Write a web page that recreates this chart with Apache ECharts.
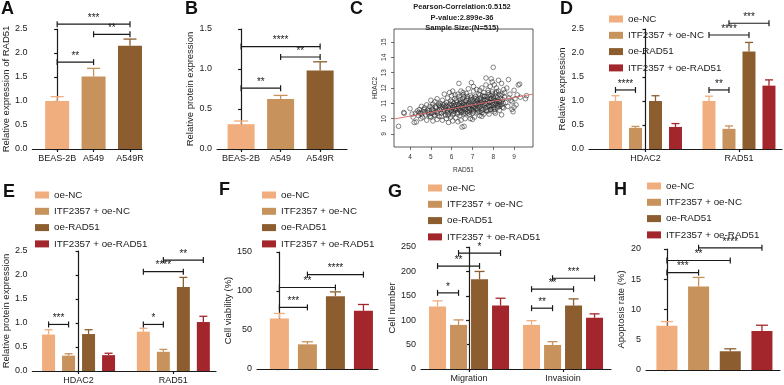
<!DOCTYPE html>
<html><head><meta charset="utf-8">
<script src="https://cdn.jsdelivr.net/npm/echarts@6/dist/echarts.min.js"></script>
<style>html,body{margin:0;padding:0;background:#fff}#c{width:784px;height:385px}</style>
</head><body><div id="c"></div>
<script>
// ---------------- DATA ----------------
const groupNames = ['oe-NC', 'ITF2357 + oe-NC', 'oe-RAD51', 'ITF2357 + oe-RAD51'];

// A
const aCats = ['BEAS-2B', 'A549', 'A549R'];
const aMean = [1.0, 1.51, 2.15];
const aUpper = [1.09, 1.68, 2.29];
const aSig = [[0, 1, 1.81, '**'], [1, 2, 2.39, '**'], [0, 2, 2.6, '***']];

// B
const bCats = ['BEAS-2B', 'A549', 'A549R'];
const bMean = [0.31, 0.625, 0.98];
const bUpper = [0.35, 0.67, 1.09];
const bSig = [[0, 1, 0.76, '**'], [1, 2, 1.15, '**'], [0, 2, 1.28, '****']];

// C (scatter: RAD51 vs HDAC2)
const cTitle = ['Pearson-Correlation:0.5152', 'P-value:2.899e-36', 'Sample Size:(N=515)'];
const cXTicks = [4, 5, 6, 7, 8, 9];
const cYTicks = [9, 10, 11, 12, 13, 14, 15];
const cFitLine = [[3.23, 9.98], [9.91, 11.6]];
const cPoints = [
[3.45,9.5],[3.7,10.4],[3.72,10.35],[4.0,10.65],[4.1,10.3],[4.15,10.1],[4.2,9.75],[4.3,9.78],[4.35,10.5],[4.4,10.2],
[4.45,10.6],[4.5,10.35],[4.55,10.8],[4.6,10.1],[4.62,10.45],[4.7,10.7],[4.75,10.25],[4.8,10.9],[4.8,9.9],[4.85,10.55],
[4.9,10.3],[4.95,10.8],[5.0,11.2],[5.0,10.1],[5.05,10.6],[5.1,9.85],[5.1,10.95],[5.15,10.4],[5.2,11.1],[5.2,10.2],
[5.25,10.7],[5.3,9.95],[5.3,11.3],[5.35,10.5],[5.4,10.85],[5.4,10.15],[5.45,11.0],[5.5,10.35],[5.5,10.65],[5.55,11.2],[5.55,9.9],
[5.6,10.45],[5.6,10.9],[5.65,11.6],[5.7,10.25],[5.7,10.75],[5.75,11.05],[5.75,10.0],[5.8,10.55],[5.8,11.35],[5.85,10.8],
[5.85,10.3],[5.9,11.7],[5.9,10.6],[5.95,10.1],[5.95,11.15],[6.0,10.45],[6.0,10.9],[6.0,11.5],[6.05,10.7],[6.05,9.85],
[6.1,11.0],[6.1,10.35],[6.15,10.8],[6.15,11.3],[6.2,10.55],[6.2,10.05],[6.25,11.1],[6.25,10.65],[6.3,11.6],[6.3,10.4],
[6.35,10.9],[6.35,12.3],[6.4,10.2],[6.4,11.25],[6.45,10.75],[6.45,11.8],[6.5,10.5],[6.5,11.05],[6.5,9.45],[6.55,10.95],
[6.55,10.3],[6.6,11.4],[6.6,9.5],[6.6,10.65],[6.65,11.15],[6.65,10.0],[6.7,10.85],[6.7,11.65],[6.75,10.45],[6.75,11.3],
[6.8,10.7],[6.8,11.95],[6.85,10.25],[6.85,11.1],[6.9,10.9],[6.9,11.5],[6.95,12.35],[6.95,10.6],[7.0,11.2],[7.0,10.35],
[7.05,11.8],[7.05,10.8],[7.1,11.0],[7.1,10.1],[7.15,11.45],[7.15,10.65],[7.2,11.9],[7.2,10.95],[7.25,10.4],[7.25,11.25],
[7.3,10.75],[7.3,11.6],[7.35,11.05],[7.35,10.2],[7.4,11.35],[7.4,10.85],[7.45,12.0],[7.45,10.55],[7.5,11.15],[7.5,10.9],
[7.55,11.7],[7.55,10.3],[7.6,11.0],[7.6,11.45],[7.65,10.7],[7.65,12.65],[7.7,11.25],[7.7,10.95],[7.75,11.85],[7.75,10.5],
[7.8,11.1],[7.8,11.55],[7.85,10.8],[7.85,12.1],[7.9,11.3],[7.9,12.6],[7.9,10.6],[7.95,11.05],[7.95,11.75],[8.0,13.35],
[8.0,10.9],[8.0,11.4],[8.05,12.2],[8.05,10.45],[8.1,11.2],[8.1,11.65],[8.15,10.95],[8.15,12.0],[8.2,11.35],[8.2,10.7],
[8.25,11.8],[8.3,11.1],[8.3,10.55],[8.35,11.5],[8.4,12.3],[8.4,10.9],[8.45,11.25],[8.5,10.7],[8.5,11.9],[8.55,11.4],
[8.6,11.05],[8.65,12.0],[8.7,10.8],[8.73,12.55],[8.8,11.6],[8.85,11.2],[8.9,10.6],[8.95,10.45],[9.0,11.85],[9.05,11.3],
[9.1,10.9],[9.2,12.2],[9.27,12.25],[9.3,11.4],[9.55,11.3],[9.6,11.5],
[5.62,10.6],[5.68,10.95],[5.78,10.4],[5.88,10.7],[5.98,10.55],[6.02,11.1],[6.08,10.5],[6.12,10.85],[6.18,10.65],[6.22,11.2],
[6.28,10.3],[6.32,10.75],[6.38,11.0],[6.42,10.55],[6.48,10.85],[6.52,11.3],[6.58,10.45],[6.62,10.9],[6.68,10.6],[6.72,11.2],
[6.78,10.35],[6.82,10.95],[6.88,10.65],[6.92,11.25],[6.98,10.85],[7.02,10.55],[7.08,11.35],[7.12,10.75],[7.18,11.1],[7.22,10.6],
[7.28,11.0],[7.32,10.45],[7.38,11.2],[7.42,10.7],[7.48,11.5],[7.52,10.6],[7.58,10.85],[7.62,11.2],[7.68,10.5],[7.72,11.4],
[7.78,10.85],[7.82,11.05],[7.88,11.5],[7.92,10.85],[7.98,11.2],[8.02,10.7],[8.08,11.0],[8.12,11.45],[8.18,10.85],[8.22,11.15],
[8.28,11.6],[8.32,10.9],[8.38,11.1],[8.42,11.6],[8.48,11.0],[5.12,10.55],[5.22,10.8],[5.32,10.35],[5.42,10.6],[5.52,10.15],
[5.58,10.75],[4.92,10.5],[5.02,10.35],[4.72,10.45],[4.52,10.0],[4.42,10.4],[6.05,11.8],[6.55,11.7],[7.05,12.1],[7.35,11.85],
[7.65,12.2],[7.95,12.4],[8.25,12.5],[8.55,11.7],[8.75,11.35],[8.9,11.1],[9.0,10.75],[9.15,11.55],[6.45,9.9],[6.9,10.0],
[7.45,10.15],[7.8,10.3],[8.1,10.35],[8.4,10.25],[5.85,9.75],[6.3,9.8],[7.0,9.95],
[5.66,10.5],[5.74,10.85],[5.82,10.2],[5.92,10.95],[6.04,10.25],[6.14,10.6],[6.24,10.9],[6.34,10.6],[6.44,11.1],[6.54,10.7],
[6.64,10.35],[6.74,10.95],[6.84,10.55],[6.94,11.05],[7.04,10.7],[7.14,10.9],[7.24,11.15],[7.34,10.9],[7.44,11.05],[7.54,11.25],
[7.64,10.95],[7.74,11.15],[7.84,11.3],[7.94,10.7],[8.04,11.3],[8.14,11.1],[8.24,10.95],[8.34,11.3],[8.44,10.75],[6.16,11.55],
[6.36,11.45],[6.56,11.55],[6.76,11.45],[6.96,11.4],[7.16,11.3],[7.36,11.55],[7.56,11.45],[7.76,11.7],[7.96,11.6],[8.16,11.75],
[5.46,10.8],[5.36,10.95],[5.26,10.45],[5.16,10.25],[5.06,10.75],[4.96,10.15],[4.86,10.4],[4.66,10.6],[4.56,10.3],[4.26,10.35],
[6.46,10.4],[6.66,10.8],[6.86,10.45],[7.06,10.45],[7.26,10.55],[7.46,10.4],[7.66,10.55],[7.86,10.6],[8.06,10.6],[8.26,10.8]
];

// D  (rows = group member, columns = category)
const dCats = ['HDAC2', 'RAD51'];
const dMean = [[1.0, 1.0], [0.44, 0.42], [1.0, 2.03], [0.46, 1.32]];
const dUpper = [[1.11, 1.1], [0.47, 0.48], [1.11, 2.22], [0.53, 1.44]];
const dSig = [[0, 0, 0, 1, 1.23, '****'], [1, 0, 1, 1, 1.23, '**'], [1, 0, 1, 2, 2.375, '****'], [1, 1, 1, 3, 2.62, '***']];

// E
const eCats = ['HDAC2', 'RAD51'];
const eMean = [[0.76, 0.82], [0.32, 0.40], [0.77, 1.75], [0.33, 1.02]];
const eUpper = [[0.86, 0.89], [0.36, 0.45], [0.86, 1.95], [0.37, 1.14]];
const eSig = [[0, 0, 0, 1, 0.97, '***'], [1, 0, 1, 1, 0.97, '*'], [1, 0, 1, 2, 2.07, '****'], [1, 1, 1, 3, 2.31, '**']];

// F
const fMean = [64.8, 31.6, 93.3, 74.6];
const fUpper = [71.2, 34.9, 98.9, 82.7];
const fSig = [[0, 1, 79, '***'], [0, 2, 104.5, '**'], [1, 3, 121, '****']];

// G
const gCats = ['Migration', 'Invasioin'];
const gMean = [[128, 90.4], [90.4, 49.3], [184, 130], [130, 105]];
const gUpper = [[139.6, 99], [100.6, 56], [199.9, 143.7], [145, 113]];
const gSig = [[0, 0, 0, 1, 156, '*'], [0, 0, 0, 2, 211, '**'], [0, 1, 0, 3, 237.6, '*'],
              [1, 0, 1, 1, 124.6, '**'], [1, 0, 1, 2, 163.6, '**'], [1, 1, 1, 3, 186, '***']];

// H
const hMean = [7.3, 13.8, 3.1, 6.45];
const hUpper = [8.0, 15.3, 3.5, 7.4];
const hSig = [[0, 1, 16.1, '***'], [0, 2, 18.1, '**'], [1, 3, 20.2, '****']];

// ---------------- STYLE / LAYOUT ----------------
const FONT = '"Liberation Sans", Arial, Helvetica, sans-serif';
const INK = '#1a1a1a';
const PALETTE = ['#F0AD7E', '#C8925C', '#8C5D2E', '#A2262C'];

const chart = echarts.init(document.getElementById('c'), null, {renderer: 'canvas'});

const grids = [
  {left: 32, top: 29, width: 110, height: 120},   // A
  {left: 217, top: 29, width: 130, height: 120},  // B
  {left: 394, top: 29, width: 139, height: 118, show: true, borderColor: '#333', borderWidth: 0.8}, // C
  {left: 589, top: 29, width: 193, height: 120},  // D
  {left: 32, top: 251, width: 184, height: 120},  // E
  {left: 257, top: 252, width: 121, height: 117}, // F
  {left: 421, top: 247, width: 190, height: 122}, // G
  {left: 646, top: 249, width: 134, height: 121}  // H
];

const axisLineStyle = {color: INK, width: 1.2};
function xCat(gi, min, max, cats) {
  const vals = cats ? cats.map((c, i) => i) : [];
  return {
    type: 'value', gridIndex: gi, min, max,
    axisLine: {show: true, onZero: false, lineStyle: axisLineStyle},
    axisTick: {show: !!cats, customValues: vals, length: 3, lineStyle: axisLineStyle},
    axisLabel: {show: !!cats, customValues: vals, formatter: v => cats ? cats[Math.round(v)] : '',
      fontSize: 9, color: INK, fontFamily: FONT, margin: 5},
    splitLine: {show: false}
  };
}
function yVal(gi, max, interval, dec, name, gap) {
  return {
    type: 'value', gridIndex: gi, min: 0, max, interval,
    name, nameLocation: 'middle', nameGap: gap,
    nameTextStyle: {fontSize: 9.5, color: INK, fontFamily: FONT},
    axisLine: {show: true, lineStyle: axisLineStyle},
    axisTick: {show: true, length: 3, lineStyle: axisLineStyle},
    axisLabel: {formatter: v => v.toFixed(dec), fontSize: 9, color: INK, fontFamily: FONT, margin: 5},
    splitLine: {show: false}
  };
}

const xAxes = [
  xCat(0, -0.68, 2.33, aCats),
  xCat(1, -0.61, 2.68, bCats),
  {type: 'value', gridIndex: 2, min: 3.23, max: 9.91, name: 'RAD51', nameLocation: 'middle', nameGap: 20,
   nameTextStyle: {fontSize: 6.5, color: '#333', fontFamily: FONT},
   axisLine: {show: false}, axisTick: {show: true, customValues: cXTicks, length: 3, lineStyle: {color: '#333', width: 0.7}},
   axisLabel: {customValues: cXTicks, fontSize: 6.5, color: '#333', fontFamily: FONT, margin: 7}, splitLine: {show: false}},
  xCat(3, -0.604, 1.46, dCats),
  xCat(4, -0.487, 1.45, eCats),
  xCat(5, -0.8, 3.52, null),
  xCat(6, -0.511, 1.51, gCats),
  xCat(7, -0.66, 3.57, null)
];
const yAxes = [
  yVal(0, 2.5, 0.5, 1, 'Relative expression of RAD51', 19),
  yVal(1, 1.5, 0.5, 1, 'Relative protein expression', 20),
  {type: 'value', gridIndex: 2, min: 8.15, max: 15.85, name: 'HDAC2', nameLocation: 'middle', nameGap: 15,
   nameTextStyle: {fontSize: 6.5, color: '#333', fontFamily: FONT},
   axisLine: {show: false}, axisTick: {show: true, customValues: cYTicks, length: 3, lineStyle: {color: '#333', width: 0.7}},
   axisLabel: {customValues: cYTicks, rotate: 90, fontSize: 6.5, color: '#333', fontFamily: FONT, margin: 6}, splitLine: {show: false}},
  yVal(3, 2.5, 0.5, 1, 'Relative expression', 20),
  yVal(4, 2.5, 0.5, 1, 'Relative protein expression', 19),
  yVal(5, 150, 50, 0, 'Cell viability (%)', 21),
  yVal(6, 250, 50, 0, 'Cell number', 21),
  yVal(7, 20, 5, 0, 'Apoptosis rate (%)', 20)
];

const series = [];

function singleBars(gi, mean, bw) {
  series.push({type: 'bar', xAxisIndex: gi, yAxisIndex: gi, barWidth: bw, silent: true,
    data: mean.map((v, i) => ({value: [i, v], itemStyle: {color: PALETTE[i]}}))});
}
function namedSingleBars(gi, mean, bw) {
  mean.forEach((v, m) => series.push({type: 'bar', name: groupNames[m], xAxisIndex: gi, yAxisIndex: gi,
    barWidth: bw, barGap: '-100%', silent: true, itemStyle: {color: PALETTE[m]}, data: [[m, v]]}));
}
function groupedBars(gi, cats, mean, bw, gapPct) {
  mean.forEach((row, m) => series.push({type: 'bar', name: groupNames[m], xAxisIndex: gi, yAxisIndex: gi,
    barWidth: bw, barGap: gapPct, silent: true, itemStyle: {color: PALETTE[m]},
    data: cats.map((c, g) => [g, row[g]])}));
}
function errorBars(gi, items, offset, capW) {
  series.push({type: 'custom', xAxisIndex: gi, yAxisIndex: gi, silent: true, z: 3,
    encode: {x: 0, y: 3}, data: items,
    renderItem: (p, api) => {
      const x0 = api.value(0), m = api.value(1);
      const a = api.coord([x0, api.value(2)]), b = api.coord([x0, api.value(3)]);
      const x = a[0] + offset(m);
      const col = PALETTE[api.value(4)];
      return {type: 'group', children: [
        {type: 'line', shape: {x1: x, y1: a[1], x2: x, y2: b[1]}, style: {stroke: col, lineWidth: 1.3}},
        {type: 'line', shape: {x1: x - capW / 2, y1: b[1], x2: x + capW / 2, y2: b[1]}, style: {stroke: col, lineWidth: 1.3}}
      ]};
    }});
}
function brackets(gi, items, labels, offset) {
  series.push({type: 'custom', xAxisIndex: gi, yAxisIndex: gi, silent: true, z: 4, clip: false,
    encode: {x: 0, y: 4}, data: items,
    renderItem: (p, api) => {
      const y = api.value(4);
      const p1 = api.coord([api.value(0), y]), p2 = api.coord([api.value(2), y]);
      const x1 = p1[0] + offset(api.value(1)), x2 = p2[0] + offset(api.value(3)), yy = p1[1];
      const st = {stroke: INK, lineWidth: 1.2};
      return {type: 'group', children: [
        {type: 'line', shape: {x1, y1: yy, x2, y2: yy}, style: st},
        {type: 'line', shape: {x1, y1: yy - 3, x2: x1, y2: yy + 3}, style: st},
        {type: 'line', shape: {x1: x2, y1: yy - 3, x2, y2: yy + 3}, style: st},
        {type: 'text', x: (x1 + x2) / 2, y: yy - 1, style: {text: labels[p.dataIndex], fill: INK,
          font: '10px ' + FONT, align: 'center', verticalAlign: 'bottom'}}
      ]};
    }});
}
const zero = () => 0;
const grpOff = sp => m => (m - 1.5) * sp;

// A
singleBars(0, aMean, 24);
errorBars(0, aMean.map((v, i) => [i, 0, v, aUpper[i], i]), zero, 13);
brackets(0, aSig.map(s => [s[0], 0, s[1], 0, s[2]]), aSig.map(s => s[3]), zero);
// B
singleBars(1, bMean, 27);
errorBars(1, bMean.map((v, i) => [i, 0, v, bUpper[i], i]), zero, 14);
brackets(1, bSig.map(s => [s[0], 0, s[1], 0, s[2]]), bSig.map(s => s[3]), zero);
// C
series.push({type: 'scatter', xAxisIndex: 2, yAxisIndex: 2, silent: true, data: cPoints,
  symbol: 'circle', symbolSize: 4.6, itemStyle: {color: 'rgba(0,0,0,0)', borderColor: '#2a2a2a', borderWidth: 0.7}});
series.push({type: 'line', xAxisIndex: 2, yAxisIndex: 2, silent: true, data: cFitLine, symbol: 'none', z: 5,
  lineStyle: {color: '#e06a6a', width: 0.9}});
// D
groupedBars(3, dCats, dMean, 13, '53.8%');
errorBars(3, dMean.flatMap((row, m) => row.map((v, g) => [g, m, v, dUpper[m][g], m])), grpOff(20), 8);
brackets(3, dSig.map(s => s.slice(0, 5)), dSig.map(s => s[5]), grpOff(20));
// E
groupedBars(4, eCats, eMean, 13, '53.8%');
errorBars(4, eMean.flatMap((row, m) => row.map((v, g) => [g, m, v, eUpper[m][g], m])), grpOff(20), 8);
brackets(4, eSig.map(s => s.slice(0, 5)), eSig.map(s => s[5]), grpOff(20));
// F
namedSingleBars(5, fMean, 19);
errorBars(5, fMean.map((v, i) => [i, 0, v, fUpper[i], i]), zero, 11);
brackets(5, fSig.map(s => [s[0], 0, s[1], 0, s[2]]), fSig.map(s => s[3]), zero);
// G
groupedBars(6, gCats, gMean, 17, '23.5%');
errorBars(6, gMean.flatMap((row, m) => row.map((v, g) => [g, m, v, gUpper[m][g], m])), grpOff(21), 10);
brackets(6, gSig.map(s => s.slice(0, 5)), gSig.map(s => s[5]), grpOff(21));
// H
namedSingleBars(7, hMean, 21);
errorBars(7, hMean.map((v, i) => [i, 0, v, hUpper[i], i]), zero, 12);
brackets(7, hSig.map(s => [s[0], 0, s[1], 0, s[2]]), hSig.map(s => s[3]), zero);

function legendAt(left, top) {
  return {orient: 'vertical', left, top, padding: 0, itemWidth: 14, itemHeight: 7, itemGap: 4.3,
    icon: 'rect', selectedMode: false, data: groupNames,
    textStyle: {fontSize: 9.8, color: INK, fontFamily: FONT, lineHeight: 12}};
}

const letters = [['A', 1, 0], ['B', 185, 0], ['C', 350, 0], ['D', 560, 0],
                 ['E', 3, 183], ['F', 219, 181], ['G', 388, 183], ['H', 614, 181]];
const graphic = letters.map(l => ({type: 'text', x: l[1], y: l[2],
  style: {text: l[0], font: 'bold 18px ' + FONT, fill: '#111', align: 'left', verticalAlign: 'top'}}));
[7, 18, 28].forEach((y, i) => graphic.push({type: 'text', x: 462, y,
  style: {text: cTitle[i], font: 'bold 7.5px ' + FONT, fill: '#222', align: 'center', verticalAlign: 'middle'}}));

chart.setOption({
  animation: false,
  backgroundColor: '#fff',
  grid: grids,
  xAxis: xAxes,
  yAxis: yAxes,
  legend: [legendAt(609, 13), legendAt(35, 189), legendAt(262, 189), legendAt(428, 182), legendAt(647, 180)],
  graphic,
  series
});
</script></body></html>
